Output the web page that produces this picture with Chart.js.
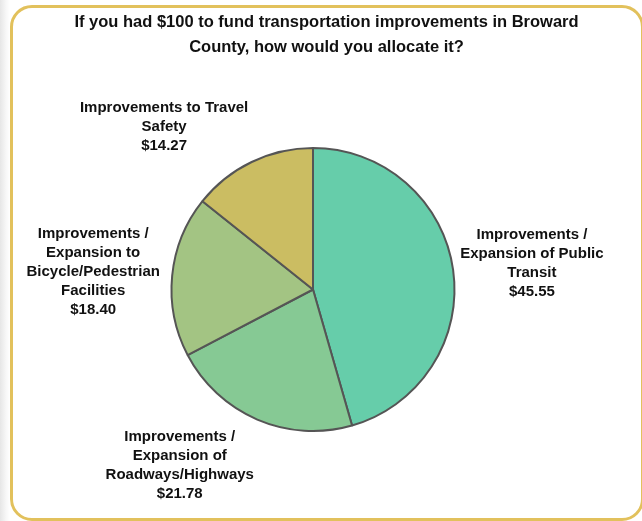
<!DOCTYPE html>
<html>
<head>
<meta charset="utf-8">
<script src="https://cdn.jsdelivr.net/npm/chart.js@4/dist/chart.umd.min.js"></script>
<style>
  html, body { margin: 0; padding: 0; background: #fff; }
  #wrap { position: relative; width: 642px; height: 521px; overflow: hidden;
    background: linear-gradient(to right, #e6e6e6 0px, #f7f7f7 6px, #fff 10px); }
  #frame { position: absolute; left: 10px; top: 5px; width: 628px; height: 510px;
    border: 3px solid #e2c15c; border-radius: 22px; background: #fff; }
  canvas { position: absolute; left: 0; top: 0; }
</style>
</head>
<body>
<div id="wrap">
  <div id="frame"></div>
  <canvas id="chart" width="642" height="521"></canvas>
</div>
<script>
const chartTitle = ["If you had $100 to fund transportation improvements in Broward", "County, how would you allocate it?"];
const categories = [
  ["Improvements /", "Expansion of Public", "Transit"],
  ["Improvements /", "Expansion of", "Roadways/Highways"],
  ["Improvements /", "Expansion to", "Bicycle/Pedestrian", "Facilities"],
  ["Improvements to Travel", "Safety"],
];
const amounts = [45.55, 21.78, 18.40, 14.27];
const sliceColors = ["#66cdaa", "#86c994", "#a3c483", "#cbbd62"];

// small angle nudges (degrees) so labels sit like the original
const labelNudge = [1.2, 14, -1, -16.8];

const titleAndLabels = {
  id: "titleAndLabels",
  afterDatasetsDraw(chart) {
    const ctx = chart.ctx;
    ctx.save();
    ctx.fillStyle = "#111";
    ctx.textAlign = "center";
    ctx.textBaseline = "middle";

    // title, centred on the frame rather than the plot
    ctx.font = "bold 16.5px 'Liberation Sans', Arial, sans-serif";
    chartTitle.forEach((t, k) => ctx.fillText(t, 326.5, 22 + k * 25));

    // slice labels outside the pie
    ctx.font = "bold 15px 'Liberation Sans', Arial, sans-serif";
    const lh = 19;
    const meta = chart.getDatasetMeta(0);
    meta.data.forEach((arc, i) => {
      const p = arc.getProps(["x", "y", "startAngle", "endAngle", "outerRadius"], true);
      const mid = (p.startAngle + p.endAngle) / 2 + labelNudge[i] * Math.PI / 180;
      const r = p.outerRadius + 79;
      const cx = p.x + Math.cos(mid) * r;
      const cy = p.y + Math.sin(mid) * r;
      const lines = categories[i].concat(["$" + amounts[i].toFixed(2)]);
      const top = cy - (lines.length - 1) * lh / 2;
      lines.forEach((t, k) => ctx.fillText(t, cx, top + k * lh));
    });
    ctx.restore();
  }
};

new Chart(document.getElementById("chart"), {
  type: "pie",
  data: {
    labels: categories,
    datasets: [{
      data: amounts,
      backgroundColor: sliceColors,
      borderColor: "#555555",
      borderWidth: 2,
    }],
  },
  options: {
    responsive: false,
    animation: false,
    layout: { padding: { left: 100, right: 116, top: 147, bottom: 89 } },
    plugins: {
      legend: { display: false },
      tooltip: { enabled: false },
      title: { display: false },
    },
  },
  plugins: [titleAndLabels],
});
</script>
</body>
</html>
